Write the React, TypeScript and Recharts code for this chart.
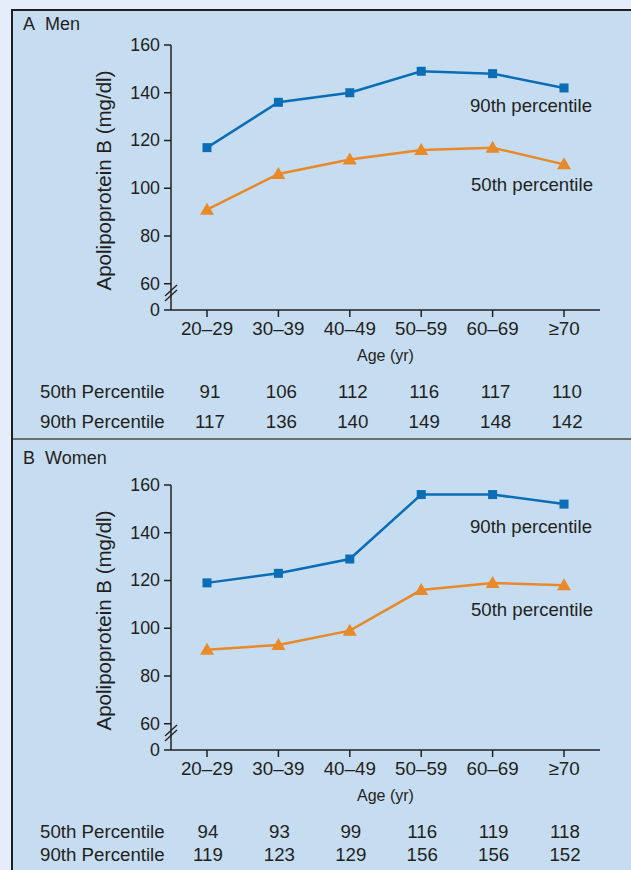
import React from "react";
import { LineChart, Line, XAxis, YAxis } from "recharts";

const categories = ["20–29", "30–39", "40–49", "50–59", "60–69", "≥70"];
const yTicks = [49, 60, 80, 100, 120, 140, 160];

// plotted values
const menP50 = [91, 106, 112, 116, 117, 110];
const menP90 = [117, 136, 140, 149, 148, 142];
const womenP50 = [91, 93, 99, 116, 119, 118];
const womenP90 = [119, 123, 129, 156, 156, 152];

// numbers printed in the tables under each panel
const menTable50 = [91, 106, 112, 116, 117, 110];
const menTable90 = [117, 136, 140, 149, 148, 142];
const womenTable50 = [94, 93, 99, 116, 119, 118];
const womenTable90 = [119, 123, 129, 156, 156, 152];

const INK = "#231f20";
const BLUE = "#0b6db5";
const ORANGE = "#e8892a";
const FONT = "'Liberation Sans', Arial, Helvetica, sans-serif";

function squareDot(label: string, dx: number, dy: number) {
  return (p: any) => (
    <g key={`sq-${p.index}`}>
      <rect x={p.cx - 4.5} y={p.cy - 4.5} width={9} height={9} fill={BLUE} />
      {p.index === categories.length - 1 && (
        <text x={p.cx + dx} y={p.cy + dy} textAnchor="middle" dominantBaseline="central" fontSize={18.6} fill={INK}>
          {label}
        </text>
      )}
    </g>
  );
}

function triangleDot(label: string, dx: number, dy: number) {
  return (p: any) => (
    <g key={`tri-${p.index}`}>
      <polygon
        points={`${p.cx},${p.cy - 7} ${p.cx - 7},${p.cy + 5} ${p.cx + 7},${p.cy + 5}`}
        fill={ORANGE}
      />
      {p.index === categories.length - 1 && (
        <text x={p.cx + dx} y={p.cy + dy} textAnchor="middle" dominantBaseline="central" fontSize={18.6} fill={INK}>
          {label}
        </text>
      )}
    </g>
  );
}

function YTick(p: any) {
  const { x, y, payload } = p;
  const axisX = x + 11;
  const isZero = payload.value === 49;
  return (
    <g>
      <text x={x} y={y} textAnchor="end" dominantBaseline="central" fontSize={17.8} fill={INK}>
        {isZero ? "0" : payload.value}
      </text>
      {isZero && (
        <g stroke={INK} strokeWidth={1.3}>
          <line x1={axisX - 6} y1={y - 9} x2={axisX + 6} y2={y - 20} />
          <line x1={axisX - 6} y1={y - 14} x2={axisX + 6} y2={y - 25} />
        </g>
      )}
    </g>
  );
}

function makeXTick(t50: number[], t90: number[], row1: number, row2: number, valDx: number) {
  return (p: any) => {
    const { x, y, payload, index } = p;
    const axisY = y - 11;
    return (
      <g>
        <text x={x} y={axisY + 18} textAnchor="middle" dominantBaseline="central" fontSize={18.8} fill={INK}>
          {payload.value}
        </text>
        {index === 0 && (
          <>
            <text x={40} y={axisY + row1} dominantBaseline="central" fontSize={18.7} fill={INK}>
              50th Percentile
            </text>
            <text x={40} y={axisY + row2} dominantBaseline="central" fontSize={18.7} fill={INK}>
              90th Percentile
            </text>
          </>
        )}
        <text x={x + valDx} y={axisY + row1} textAnchor="middle" dominantBaseline="central" fontSize={18.7} fill={INK}>
          {t50[index]}
        </text>
        <text x={x + valDx} y={axisY + row2} textAnchor="middle" dominantBaseline="central" fontSize={18.7} fill={INK}>
          {t90[index]}
        </text>
      </g>
    );
  };
}

type PanelProps = {
  top: number;
  height: number;
  p50: number[];
  p90: number[];
  t50: number[];
  t90: number[];
  row2: number;
  valDx: number;
  dy90: number;
  dy50: number;
};

function Panel({ top, height, p50, p90, t50, t90, row2, valDx, dy90, dy50 }: PanelProps) {
  const data = categories.map((c, i) => ({ age: c, p50: p50[i], p90: p90[i] }));
  return (
    <div style={{ position: "absolute", left: 0, top }}>
      <LineChart width={631} height={height} data={data} margin={{ top: 45, right: 31, bottom: 0, left: 0 }}>
        <XAxis
          dataKey="age"
          height={height - 310}
          padding={{ left: 36, right: 36 }}
          stroke={INK}
          strokeWidth={1.5}
          tickSize={7}
          tickMargin={4}
          interval={0}
          tick={makeXTick(t50, t90, 81, row2, valDx)}
          label={(lp: any) => {
            const vb = lp.viewBox;
            return (
              <text x={vb.x + vb.width / 2} y={vb.y + 45} textAnchor="middle" dominantBaseline="central" fontSize={16} fill={INK}>
                Age (yr)
              </text>
            );
          }}
        />
        <YAxis
          width={171}
          domain={[49, 160]}
          ticks={yTicks}
          stroke={INK}
          strokeWidth={1.5}
          tickSize={7}
          tickMargin={4}
          interval={0}
          tick={YTick}
          label={(lp: any) => {
            const vb = lp.viewBox;
            const cy = vb.y + vb.height / 2 + 3;
            return (
              <text x={103} y={cy} transform={`rotate(-90 103 ${cy})`} textAnchor="middle" dominantBaseline="central" fontSize={20.5} fill={INK}>
                Apolipoprotein B (mg/dl)
              </text>
            );
          }}
        />
        <Line
          dataKey="p90"
          stroke={BLUE}
          strokeWidth={2.5}
          dot={squareDot("90th percentile", -33, dy90)}
          isAnimationActive={false}
        />
        <Line
          dataKey="p50"
          stroke={ORANGE}
          strokeWidth={2.5}
          dot={triangleDot("50th percentile", -32, dy50)}
          isAnimationActive={false}
        />
      </LineChart>
    </div>
  );
}

export default function App() {
  return (
    <div
      style={{
        position: "absolute",
        left: 0,
        top: 0,
        width: 631,
        height: 870,
        overflow: "hidden",
        background: "#e4eef8",
        fontFamily: FONT,
        color: INK,
      }}
    >
      <div
        style={{
          position: "absolute",
          left: 11,
          top: 9,
          width: 700,
          height: 900,
          border: `2px solid ${INK}`,
          background: "#c6ddf1",
        }}
      />
      <div style={{ position: "absolute", left: 13, top: 438, width: 640, height: 2, background: "#6d6e70" }} />
      <div style={{ position: "absolute", left: 23, top: 15, fontSize: 18, lineHeight: "19px" }}>A&nbsp;&nbsp;Men</div>
      <div style={{ position: "absolute", left: 23, top: 449, fontSize: 18, lineHeight: "19px" }}>B&nbsp;&nbsp;Women</div>
      <Panel top={0} height={440} p50={menP50} p90={menP90} t50={menTable50} t90={menTable90} row2={111} valDx={3} dy90={18} dy50={20} />
      <Panel top={440} height={430} p50={womenP50} p90={womenP90} t50={womenTable50} t90={womenTable90} row2={104} valDx={1} dy90={22} dy50={24} />
    </div>
  );
}
